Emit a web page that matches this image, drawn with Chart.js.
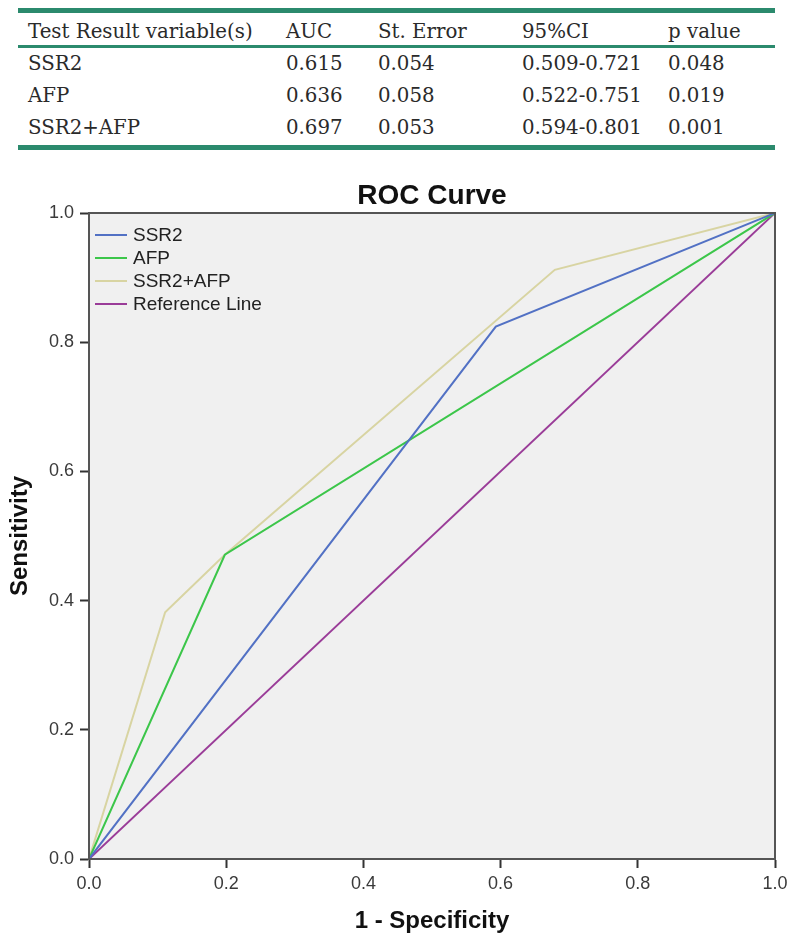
<!DOCTYPE html>
<html>
<head>
<meta charset="utf-8">
<script src="https://cdn.jsdelivr.net/npm/chart.js@4/dist/chart.umd.min.js"></script>
<style>
  html, body { margin: 0; padding: 0; background: #fff; }
  body { width: 796px; height: 944px; position: relative; overflow: hidden; }
  #tbl { position: absolute; left: 0; top: 0; width: 796px; height: 160px; font-family: "DejaVu Serif", serif; font-size: 19.8px; color: #2a2a2a; }
  .bar { position: absolute; left: 18px; width: 757px; background: #2b8a6d; }
  .cell { position: absolute; white-space: nowrap; line-height: 24px; transform: translateY(-12px); }
  #wrap { position: absolute; left: 0; top: 160px; width: 796px; height: 784px; }
</style>
</head>
<body>
<div id="tbl"></div>
<div id="wrap"><canvas id="c" width="796" height="784"></canvas></div>
<script>
// ---- Table data ----
const tableHeader = ["Test Result variable(s)", "AUC", "St. Error", "95%CI", "p value"];
const tableVariables = ["SSR2", "AFP", "SSR2+AFP"];
const tableAUC = ["0.615", "0.636", "0.697"];
const tableSE = ["0.054", "0.058", "0.053"];
const tableCI = ["0.509-0.721", "0.522-0.751", "0.594-0.801"];
const tableP = ["0.048", "0.019", "0.001"];

// ---- Chart data ----
const chartTitle = "ROC Curve";
const seriesNames = ["SSR2", "AFP", "SSR2+AFP", "Reference Line"];
const ssr2X = [0, 0.593, 1];
const ssr2Y = [0, 0.824, 1];
const afpX = [0, 0.198, 1];
const afpY = [0, 0.471, 1];
const comboX = [0, 0.111, 0.198, 0.679, 1];
const comboY = [0, 0.382, 0.471, 0.912, 1];
const refX = [0, 1];
const refY = [0, 1];
const tickValues = [0, 0.2, 0.4, 0.6, 0.8, 1.0];

// ---- Build table ----
(function(){
  const t = document.getElementById('tbl');
  const colX = [28, 286, 378, 522, 668];
  const rowY = [32, 64, 96, 128];
  function bar(top, h){ const d=document.createElement('div'); d.className='bar'; d.style.top=top+'px'; d.style.height=h+'px'; t.appendChild(d); }
  bar(8, 5); bar(45, 2.5); bar(145, 5);
  const rows = [tableHeader];
  for (let i=0;i<tableVariables.length;i++) rows.push([tableVariables[i], tableAUC[i], tableSE[i], tableCI[i], tableP[i]]);
  rows.forEach((r, ri) => r.forEach((txt, ci) => {
    const d=document.createElement('div'); d.className='cell'; d.textContent=txt;
    d.style.left=colX[ci]+'px'; d.style.top=rowY[ri]+'px'; t.appendChild(d);
  }));
})();

function pts(xs, ys){ return xs.map((x,i)=>({x:x, y:ys[i]})); }
const colors = ["#5271c4", "#3cc64a", "#d8d4a2", "#9a3c98"];
const dataSets = [pts(ssr2X,ssr2Y), pts(afpX,afpY), pts(comboX,comboY), pts(refX,refY)];
const SANS = '"Liberation Sans", Arial, sans-serif';

const frameAndLegend = {
  id: 'frameAndLegend',
  beforeDatasetsDraw(chart){
    const {ctx, chartArea:a} = chart;
    ctx.save();
    ctx.fillStyle = '#f0f0f0';
    ctx.fillRect(a.left, a.top, a.right-a.left, a.bottom-a.top);
    ctx.restore();
  },
  afterDatasetsDraw(chart){
    const {ctx, chartArea:a} = chart;
    ctx.save();
    ctx.strokeStyle = '#555';
    ctx.lineWidth = 2;
    ctx.strokeRect(a.left, a.top, a.right-a.left, a.bottom-a.top);
    // legend
    ctx.font = '19px ' + SANS;
    ctx.textBaseline = 'middle';
    chart.data.datasets.forEach((ds, i) => {
      const y = a.top + 22 + i*23;
      ctx.strokeStyle = ds.borderColor;
      ctx.lineWidth = 2;
      ctx.beginPath(); ctx.moveTo(a.left+6, y); ctx.lineTo(a.left+38, y); ctx.stroke();
      ctx.fillStyle = '#222';
      ctx.fillText(ds.label, a.left+44, y+1);
    });
    // title centred over plot area
    ctx.font = 'bold 28px ' + SANS;
    ctx.textAlign = 'center';
    ctx.fillStyle = '#111';
    ctx.fillText(chartTitle, (a.left+a.right)/2, a.top - 17);
    ctx.restore();
  }
};

new Chart(document.getElementById('c'), {
  type: 'scatter',
  data: {
    datasets: seriesNames.map((n,i)=>({
      label: n, data: dataSets[i], showLine: true, borderColor: colors[i], backgroundColor: colors[i],
      borderWidth: 2, pointRadius: 0, tension: 0, fill: false
    }))
  },
  options: {
    responsive: false, animation: false,
    layout: { padding: { left: 0, right: 21, top: 53, bottom: 0 } },
    plugins: {
      legend: { display: false },
      tooltip: { enabled: false },
      title: { display: false }
    },
    scales: {
      x: {
        type: 'linear', min: 0, max: 1,
        afterBuildTicks(s){ s.ticks = tickValues.map(v=>({value:v})); },
        afterFit(s){ s.height = 85; },
        ticks: { callback: v => v.toFixed(1), color: '#3a3a3a', padding: 5,
          font: { family: SANS, size: 18 } },
        grid: { drawOnChartArea: false, drawTicks: true, tickLength: 9, tickColor: '#333', tickWidth: 2 },
        border: { display: true, color: '#333', width: 2 },
        title: { display: true, text: '1 - Specificity', color: '#111',
          font: { family: SANS, size: 24, weight: 'bold' },
          padding: { top: 4, bottom: 8 } }
      },
      y: {
        type: 'linear', min: 0, max: 1,
        afterBuildTicks(s){ s.ticks = tickValues.map(v=>({value:v})); },
        afterFit(s){ s.width = 89; },
        ticks: { callback: v => v.toFixed(1), color: '#3a3a3a', padding: 6,
          font: { family: SANS, size: 18 } },
        grid: { drawOnChartArea: false, drawTicks: true, tickLength: 9, tickColor: '#333', tickWidth: 2 },
        border: { display: true, color: '#333', width: 2 },
        title: { display: true, text: 'Sensitivity', color: '#111',
          font: { family: SANS, size: 24, weight: 'bold' },
          padding: { top: 6, bottom: 4 } }
      }
    }
  },
  plugins: [frameAndLegend]
});
</script>
</body>
</html>
